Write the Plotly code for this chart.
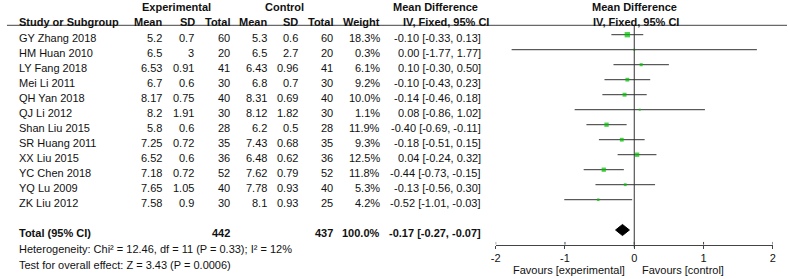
import plotly.graph_objects as go

# ---------------- data ----------------
studies = ["GY Zhang 2018", "HM Huan 2010", "LY Fang 2018", "Mei Li 2011", "QH Yan 2018",
           "QJ Li 2012", "Shan Liu 2015", "SR Huang 2011", "XX Liu 2015", "YC Chen 2018",
           "YQ Lu 2009", "ZK Liu 2012"]
exp_mean = [5.2, 6.5, 6.53, 6.7, 8.17, 8.2, 5.8, 7.25, 6.52, 7.18, 7.65, 7.58]
exp_sd = [0.7, 3, 0.91, 0.6, 0.75, 1.91, 0.6, 0.72, 0.6, 0.72, 1.05, 0.9]
exp_n = [60, 20, 41, 30, 40, 30, 28, 35, 36, 52, 40, 30]
ctl_mean = [5.3, 6.5, 6.43, 6.8, 8.31, 8.12, 6.2, 7.43, 6.48, 7.62, 7.78, 8.1]
ctl_sd = [0.6, 2.7, 0.96, 0.7, 0.69, 1.82, 0.5, 0.68, 0.62, 0.79, 0.93, 0.93]
ctl_n = [60, 20, 41, 30, 40, 30, 28, 35, 36, 52, 40, 25]
weight = [18.3, 0.3, 6.1, 9.2, 10.0, 1.1, 11.9, 9.3, 12.5, 11.8, 5.3, 4.2]
md = [-0.10, 0.00, 0.10, -0.10, -0.14, 0.08, -0.40, -0.18, 0.04, -0.44, -0.13, -0.52]
ci_lo = [-0.33, -1.77, -0.30, -0.43, -0.46, -0.86, -0.69, -0.51, -0.24, -0.73, -0.56, -1.01]
ci_hi = [0.13, 1.77, 0.50, 0.23, 0.18, 1.02, -0.11, 0.15, 0.32, -0.15, 0.30, -0.03]
total_exp_n = 442
total_ctl_n = 437
total_weight = 100.0
total_md, total_lo, total_hi = -0.17, -0.27, -0.07
heterogeneity = "Heterogeneity: Chi² = 12.46, df = 11 (P = 0.33); I² = 12%"
overall = "Test for overall effect: Z = 3.43 (P = 0.0006)"
tick_vals = [-2, -1, 0, 1, 2]
tick_text = ["-2", "-1", "0", "1", "2"]

# ---------------- layout constants ----------------
W, H = 790, 279
ROW0, ROWH = 38.0, 15.0          # pixel centre of first row, row height


def row_of(py):
    return (py - ROW0) / ROWH


def px(x):
    return x / W


FONT = "Liberation Sans, Arial, sans-serif"
FS = 11
TXT = "#111111"
LINE = "#444444"
GREEN = "#00c000"
MARK_OFF = -0.22                  # marks sit slightly above text centre
TOTAL_ROW = 13
AXIS_ROW = row_of(244.5)

fig = go.Figure()

# CI lines
xs, ys = [], []
for i in range(len(studies)):
    xs += [ci_lo[i], ci_hi[i], None]
    ys += [i + MARK_OFF, i + MARK_OFF, None]
fig.add_trace(go.Scatter(x=xs, y=ys, mode="lines", line=dict(color="#333333", width=1),
                         hoverinfo="skip", showlegend=False))

# squares
sizes = [max(2.0, 1.25 * w ** 0.5) for w in weight]
fig.add_trace(go.Scatter(x=md, y=[i + MARK_OFF for i in range(len(studies))], mode="markers",
                         marker=dict(symbol="square", size=sizes, color=GREEN, line=dict(width=0)),
                         hoverinfo="skip", showlegend=False))

# diamond
dy = 0.37
ty = TOTAL_ROW - 0.2
fig.add_trace(go.Scatter(x=[total_lo, total_md, total_hi, total_md, total_lo],
                         y=[ty, ty - dy, ty, ty + dy, ty], mode="lines", fill="toself",
                         fillcolor="black", line=dict(color="black", width=1),
                         hoverinfo="skip", showlegend=False))

shapes = []
# header rule
shapes.append(dict(type="line", xref="paper", yref="y", x0=px(2), x1=1, y0=row_of(25.3), y1=row_of(25.3),
                   line=dict(color=LINE, width=1)))
# zero line
shapes.append(dict(type="line", xref="x", yref="y", x0=0, x1=0, y0=row_of(25.3), y1=AXIS_ROW + 0.2,
                   line=dict(color="#333333", width=1)))
# upper half of cross ticks
for t in tick_vals:
    shapes.append(dict(type="line", xref="x", yref="y", x0=t, x1=t, y0=AXIS_ROW - 0.17, y1=AXIS_ROW,
                       line=dict(color=LINE, width=1)))

ann = []


def T(x, y, text, anchor="right", bold=False, size=FS):
    if bold:
        text = "<b>" + text + "</b>"
    ann.append(dict(x=px(x), y=y, xref="paper", yref="y", text=text, showarrow=False,
                    xanchor=anchor, yanchor="middle", font=dict(family=FONT, size=size, color=TXT)))


# headers
hy1, hy2 = row_of(6.7), row_of(21.5)
T(173, hy1, "Experimental", "center", True)
T(282, hy1, "Control", "center", True)
T(390, hy1, "Mean Difference", "left", True)
T(400, hy2, "IV, Fixed, 95% CI", "left", True)
T(636, hy1, "Mean Difference", "center", True)
T(637, hy2, "IV, Fixed, 95% CI", "center", True)
T(12, hy2, "Study or Subgroup", "left", True)
T(161, hy2, "Mean", bold=True)
T(194, hy2, "SD", bold=True)
T(229, hy2, "Total", bold=True)
T(267, hy2, "Mean", bold=True)
T(298, hy2, "SD", bold=True)
T(333, hy2, "Total", bold=True)
T(381, hy2, "Weight", bold=True)

# rows
for i, s in enumerate(studies):
    T(12, i, s, "left")
    T(161, i, f"{exp_mean[i]:g}")
    T(193, i, f"{exp_sd[i]:g}")
    T(229, i, f"{exp_n[i]}")
    T(267, i, f"{ctl_mean[i]:g}")
    T(298, i, f"{ctl_sd[i]:g}")
    T(333, i, f"{ctl_n[i]}")
    T(381, i, f"{weight[i]:.1f}%")
    T(483, i, f"{md[i]:.2f} [{ci_lo[i]:.2f}, {ci_hi[i]:.2f}]")

# total
T(12, TOTAL_ROW, "Total (95% CI)", "left", True)
T(229, TOTAL_ROW, f"{total_exp_n}", bold=True)
T(333, TOTAL_ROW, f"{total_ctl_n}", bold=True)
T(381, TOTAL_ROW, f"{total_weight:.1f}%", bold=True)
T(483, TOTAL_ROW, f"{total_md:.2f} [{total_lo:.2f}, {total_hi:.2f}]", bold=True)
T(12, row_of(249), heterogeneity, "left")
T(12, row_of(265), overall, "left")
T(628, row_of(270), "Favours [experimental]", "right")
T(642, row_of(270), "Favours [control]", "left")

fig.update_layout(
    width=W, height=H, margin=dict(l=0, r=0, t=0, b=0),
    paper_bgcolor="white", plot_bgcolor="white",
    showlegend=False, shapes=shapes, annotations=ann,
    xaxis=dict(domain=[495.7 / W, 775.7 / W], range=[-2, 2], showgrid=False, zeroline=False,
               showline=True, linecolor=LINE, linewidth=1, ticks="outside", ticklen=3,
               tickcolor=LINE, tickvals=tick_vals, ticktext=tick_text,
               tickfont=dict(family=FONT, size=FS, color=TXT),
               anchor="free", position=1 - 244.5 / H, fixedrange=True),
    yaxis=dict(domain=[0, 1], range=[row_of(H), row_of(0)], visible=False, fixedrange=True),
)

fig.write_html("out.html", config={"displayModeBar": False},
               post_script="document.body.style.margin='0px';")
